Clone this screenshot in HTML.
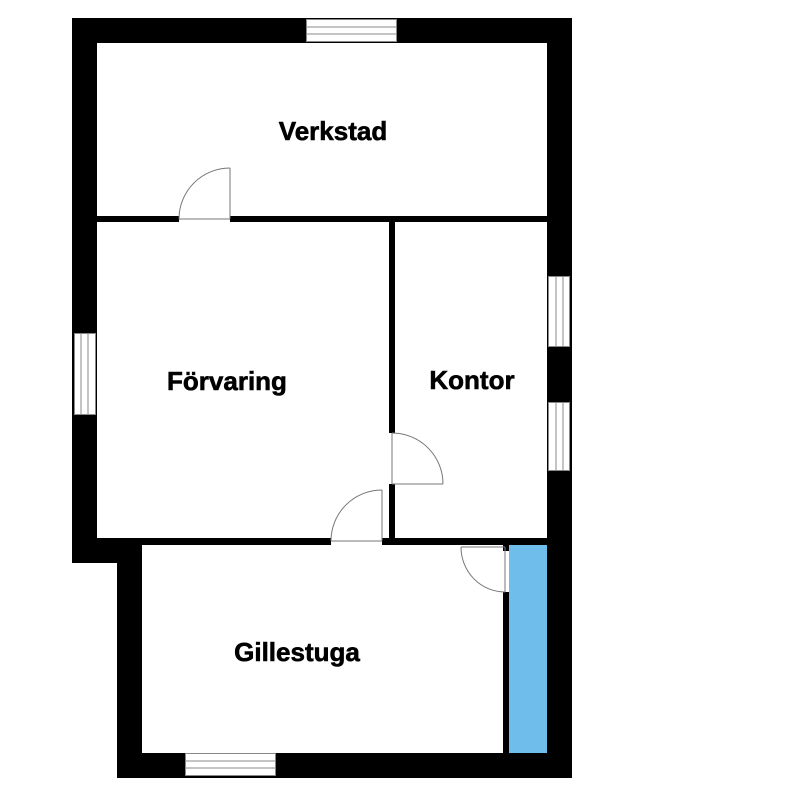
<!DOCTYPE html>
<html><head><meta charset="utf-8"><style>body{margin:0;background:#fff}</style></head><body>
<svg width="800" height="800" viewBox="0 0 800 800" xmlns="http://www.w3.org/2000/svg">
<rect width="800" height="800" fill="#fff"/>
<rect x="72" y="18" width="500" height="25" fill="#000"/>
<rect x="72" y="18" width="25" height="545" fill="#000"/>
<rect x="72" y="540" width="70" height="23" fill="#000"/>
<rect x="117" y="540" width="25" height="238" fill="#000"/>
<rect x="117" y="753" width="455" height="25" fill="#000"/>
<rect x="547" y="18" width="25" height="760" fill="#000"/>
<rect x="97" y="216" width="82" height="6" fill="#000"/>
<rect x="230" y="216" width="317" height="6" fill="#000"/>
<rect x="389" y="222" width="6" height="211" fill="#000"/>
<rect x="389" y="484" width="6" height="61" fill="#000"/>
<rect x="97" y="538" width="234" height="7" fill="#000"/>
<rect x="382" y="538" width="165" height="7" fill="#000"/>
<rect x="503" y="545" width="6" height="6" fill="#000"/>
<rect x="503" y="592" width="6" height="161" fill="#000"/>
<rect x="509" y="545" width="38" height="208" fill="#6fbdea"/>
<g fill="#fff" stroke="#888" stroke-width="1">
<rect x="306.5" y="19.5" width="90" height="22"/>
<line x1="306" y1="27" x2="397" y2="27"/><line x1="306" y1="34" x2="397" y2="34"/>
<rect x="185.5" y="753.5" width="90" height="22"/>
<line x1="185" y1="761" x2="276" y2="761"/><line x1="185" y1="768" x2="276" y2="768"/>
<rect x="74.5" y="333.5" width="21" height="81"/>
<line x1="81" y1="333" x2="81" y2="415"/><line x1="88" y1="333" x2="88" y2="415"/>
<rect x="548.5" y="276.5" width="21" height="70"/>
<line x1="556" y1="276" x2="556" y2="347"/><line x1="563" y1="276" x2="563" y2="347"/>
<rect x="548.5" y="402.5" width="21" height="68"/>
<line x1="556" y1="402" x2="556" y2="471"/><line x1="563" y1="402" x2="563" y2="471"/>
</g>
<g fill="none" stroke="#777" stroke-width="1">
<line x1="230" y1="168" x2="230" y2="219"/><path d="M179 219 A51 51 0 0 1 230 168"/>
<line x1="179" y1="219" x2="230" y2="219"/>
<line x1="382" y1="490" x2="382" y2="541"/><path d="M331 541 A51 51 0 0 1 382 490"/>
<line x1="331" y1="541" x2="382" y2="541"/>
<line x1="392" y1="484" x2="443" y2="484"/><path d="M392 433 A51 51 0 0 1 443 484"/>
<line x1="392" y1="433" x2="392" y2="484"/>
<line x1="505" y1="547" x2="505" y2="592"/><path d="M461 547 A44 45 0 0 0 505 592"/>
<line x1="461" y1="547" x2="505" y2="547"/>
</g>
<g font-family="Liberation Sans, sans-serif" font-weight="bold" font-size="26" text-anchor="middle" fill="#000" stroke="#000" stroke-width="0.6">
<text x="333" y="140">Verkstad</text>
<text x="227" y="390">Förvaring</text>
<text x="472" y="389">Kontor</text>
<text x="297" y="661">Gillestuga</text>
</g>
</svg>
</body></html>
